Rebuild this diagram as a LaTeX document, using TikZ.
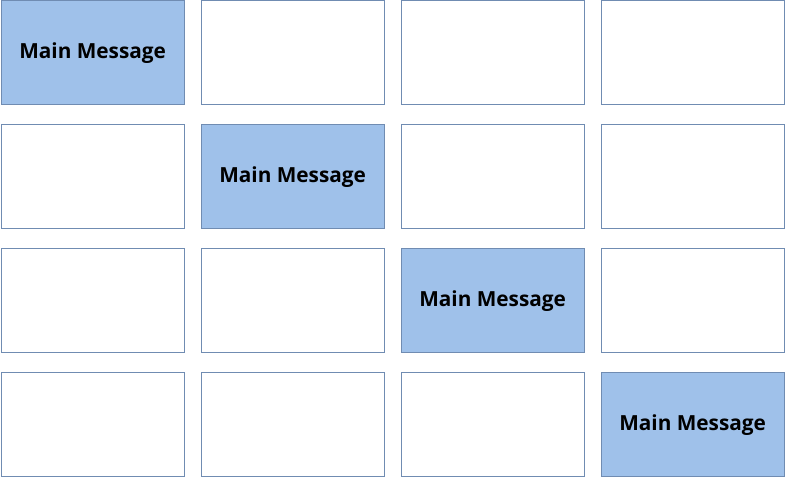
\documentclass[tikz,border=0pt]{standalone}
\usepackage{fontspec}
\setmainfont{Open Sans}
\definecolor{boxfill}{RGB}{159,193,234}
\definecolor{boxline}{RGB}{112,140,178}
\begin{document}
\begin{tikzpicture}[x=1pt,y=-1pt,
  cell/.style={draw=boxline,line width=0.8pt,minimum width=183.5pt,minimum height=103.5pt,inner sep=0pt,anchor=north west,font=\fontsize{20.8}{24}\selectfont\bfseries},
  hl/.style={cell,fill=boxfill}]
\useasboundingbox (0,0) rectangle (785,478);
\foreach \r in {0,1,2,3}{
  \foreach \c in {0,1,2,3}{
    \pgfmathtruncatemacro{\xx}{\c*200}
    \pgfmathtruncatemacro{\yy}{\r*124}
    \ifnum\r=\c
      \node[hl] (b\r\c) at (\xx+0.5,\yy+0.5) {\raisebox{-2pt}{Main Message}};
    \else
      \node[cell] (b\r\c) at (\xx+0.5,\yy+0.5) {};
    \fi
  }
}
\end{tikzpicture}
\end{document}
